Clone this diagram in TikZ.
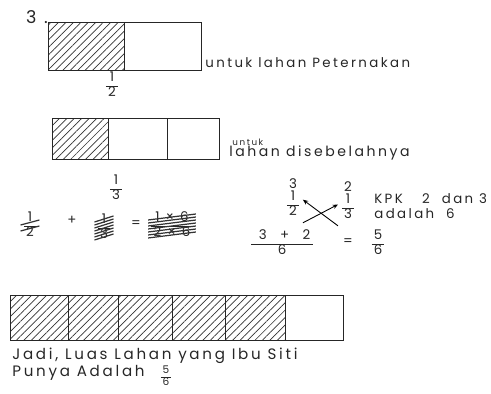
\documentclass[tikz,border=0pt]{standalone}
\usepackage{fontspec}
\setmainfont{Poppins}[LetterSpace=18]
\usetikzlibrary{positioning, calc, arrows.meta, patterns.meta}

\newcommand{\hfrac}[2]{{\renewcommand{\arraystretch}{0.85}\begin{tabular}{@{\,}c@{\,}}#1\\\hline #2\end{tabular}}}

\begin{document}
\begin{tikzpicture}[
  x=0.02cm, y=-0.02cm,
  font=\fontsize{7.6}{8.6}\selectfont,
  every node/.style={text=black!85},
  cell/.style={draw=black!85, line width=0.7pt, anchor=north west, inner sep=0pt},
  hatched/.style={cell, pattern={Lines[angle=45, distance=3pt, line width=0.4pt]}, pattern color=black!80},
  hand/.style={anchor=base west, inner sep=0pt},
  frac/.style={inner sep=0pt},
  scribble/.style={line width=0.7pt, draw=black!80},
  cross/.style={line width=0.5pt, -{Stealth[length=3pt, width=2.5pt]}},
]
  \def\px{0.02cm}
  \useasboundingbox (0,0) rectangle (491,394);

  % --- Halves (Peternakan) ---
  \node[font=\fontsize{10}{11}\selectfont] (num) at (37,17) {3 .};
  \node[hatched, minimum width=76*\px, minimum height=48*\px] (half1) at (48,22) {};
  \node[cell, minimum width=77*\px, minimum height=48*\px] (half2) at (124,22) {};
  \node[hand] (lblA) at (205,68) {untuk lahan Peternakan};
  \node[frac] (halfval) at (112,86) {\hfrac{1}{2}};

  % --- Thirds (lahan disebelahnya) ---
  \foreach \a/\w/\s [count=\i] in {52/56/hatched, 108/59/cell, 167/52/cell}
    \node[\s, minimum width=\w*\px, minimum height=41*\px] (third\i) at (\a,118) {};
  \node[hand, font=\fontsize{5}{6}\selectfont] (lblB1) at (232,146) {untuk};
  \node[hand, font=\fontsize{8}{9}\selectfont] (lblB2) at (229,157) {lahan disebelahnya};
  \node[frac] (thirdval) at (116,189) {\hfrac{1}{3}};

  % --- Crossed-out attempt ---
  \node[frac] (s1) at (30,226) {\hfrac{1}{2}};
  \node (plus) at (72,220) {+};
  \node[frac] (s2) at (104,228) {\hfrac{1}{3}};
  \node (eq1) at (136,224) {=};
  \node[frac] (s3) at (172,226) {\hfrac{1 × 6}{2 × 6}};
  \foreach \d in {-3,3}
    \draw[scribble] ($(s1.west)+(-3,\d+2)$) -- ($(s1.east)+(3,\d-3)$);
  \foreach \n in {s2,s3}
    \foreach \d in {-9,-6,...,9}
      \draw[scribble] ($(\n.west)+(-3,\d+3)$) -- ($(\n.east)+(3,\d-3)$);

  % --- Cross multiplication ---
  \node[frac] (lf) at (293,205) {\hfrac{1}{2}};
  \node[above=1pt of lf, inner sep=0pt] (lfup) {3};
  \node[frac] (rf) at (348,208) {\hfrac{1}{3}};
  \node[above=1pt of rf, inner sep=0pt] (rfup) {2};
  \draw[cross] ([xshift=2pt, yshift=-2pt]lf.south east) -- ([xshift=-2pt, yshift=2pt]rf.west);
  \draw[cross] ([xshift=-2pt, yshift=-2pt]rf.south west) -- ([xshift=2pt, yshift=3pt]lf.east);
  \node[hand] (kpk) at (374,204) {KPK\quad\ 2\ \ dan\ 3};
  \node[hand] (adalah) at (374,219) {adalah\ \ 6};

  % --- Sum ---
  \node[frac] (sum) at (282,244) {\hfrac{\hspace{3pt}3\quad+\quad2\hspace{7pt}}{6}};
  \node (eq2) at (348,242) {=};
  \node[frac] (res) at (378,244) {\hfrac{5}{6}};

  % --- Sixths and conclusion ---
  \foreach \a/\w/\s [count=\i] in {10/58/hatched, 68/50/hatched, 118/54/hatched,
                                   172/53/hatched, 225/60/hatched, 285/58/cell}
    \node[\s, minimum width=\w*\px, minimum height=45*\px] (sixth\i) at (\a,295) {};
  \node[hand, font=\fontsize{8.6}{9.6}\selectfont] (concl1) at (12,360) {Jadi, Luas Lahan yang Ibu Siti};
  \node[hand, font=\fontsize{8.6}{9.6}\selectfont] (concl2) at (12,377) {Punya Adalah};
  \node[frac, font=\fontsize{6}{7}\selectfont] (concl3) at (166,377) {\hfrac{5}{6}};

\end{tikzpicture}
\end{document}
